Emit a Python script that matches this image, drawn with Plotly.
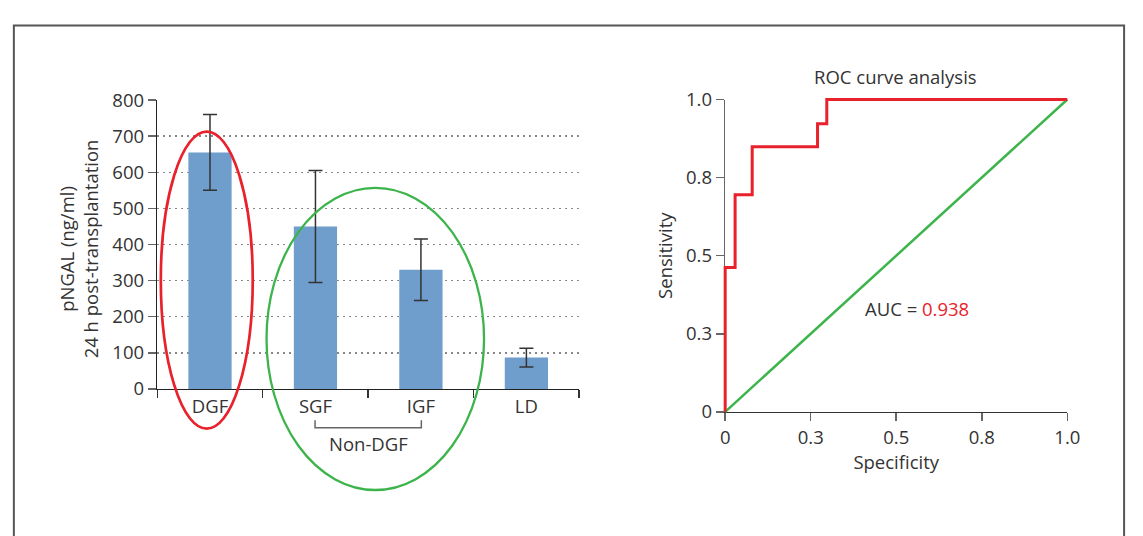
import plotly.graph_objects as go

W, H = 1143, 536

# ---- data: bar chart ----
groups = ["DGF", "SGF", "IGF", "LD"]
pngal_mean = [655, 450, 330, 87]
pngal_err = [105, 155, 85, 26]
bar_ticks = [0, 100, 200, 300, 400, 500, 600, 700, 800]

# ---- data: ROC curve ----
roc_spec = [0.0, 0.0, 0.029, 0.029, 0.079, 0.079, 0.270, 0.270, 0.297, 0.297, 1.0]
roc_sens = [0.0, 0.462, 0.462, 0.695, 0.695, 0.849, 0.849, 0.922, 0.922, 1.0, 1.0]
ref_x = [0.0, 1.0]
ref_y = [0.0, 1.0]
auc_value = 0.938
roc_tickvals = [0, 0.25, 0.5, 0.75, 1.0]
roc_ticktext = ["0", "0.3", "0.5", "0.8", "1.0"]

FONT = "Open Sans, Noto Sans, sans-serif"
FS = 18.5
TXT = "#333333"
BAR = "#6f9dcc"
RED = "#e8212b"
GREEN = "#3cb44b"


def px(x):
    return x / W


def py(y):
    return 1 - y / H


# ROC plot area in pixels
RX0, RX1, RY0, RY1 = 731.7, 1079.3, 417.3, 89.7
PAD = 4  # extra pixels so the thick lines at the edges are not clipped
padx = PAD / (RX1 - RX0)
pady = PAD / (RY0 - RY1)

fig = go.Figure()

fig.add_trace(go.Bar(
    x=groups, y=pngal_mean, marker=dict(color=BAR, line=dict(width=0)),
    width=0.41,
    error_y=dict(type="data", array=pngal_err, color="#333333", thickness=1.5, width=7),
    xaxis="x", yaxis="y", showlegend=False,
))

fig.add_trace(go.Scatter(
    x=ref_x, y=ref_y, mode="lines", line=dict(color=GREEN, width=2.5),
    xaxis="x3", yaxis="y3", showlegend=False,
))
fig.add_trace(go.Scatter(
    x=roc_spec, y=roc_sens, mode="lines", line=dict(color=RED, width=3),
    xaxis="x3", yaxis="y3", showlegend=False,
))

tickfont = dict(family=FONT, size=FS, color=TXT)

fig.update_layout(
    width=W, height=H,
    margin=dict(l=0, r=0, t=0, b=0),
    paper_bgcolor="white", plot_bgcolor="rgba(0,0,0,0)",
    font=dict(family=FONT, size=FS, color=TXT),
    hovermode=False,
    xaxis=dict(
        domain=[px(154.7), px(583.3)], anchor="y",
        type="category", range=[-0.5, 3.5], tickson="boundaries",
        ticks="outside", ticklen=8, tickwidth=1.5, tickcolor="#333333",
        showline=True, linecolor="#222222", linewidth=1.5,
        showgrid=False, zeroline=False, tickfont=tickfont,
    ),
    yaxis=dict(
        domain=[py(393.3), py(90.3)], anchor="x",
        range=[0, 800], tickvals=bar_ticks,
        ticks="outside", ticklen=8, tickwidth=1.5, tickcolor="#666666",
        showline=True, linecolor="#222222", linewidth=1.5,
        showgrid=True, gridcolor="#888888", gridwidth=1.5, griddash="2px,4px",
        zeroline=False, tickfont=tickfont,
    ),
    xaxis2=dict(
        domain=[px(RX0), px(RX1)], anchor="y2",
        range=[0, 1], tickvals=roc_tickvals, ticktext=roc_ticktext,
        ticks="outside", ticklen=8, tickwidth=1.5, tickcolor="#666666",
        showline=True, linecolor="#333333", linewidth=1.5,
        showgrid=False, zeroline=False, tickfont=tickfont,
        title=dict(text="Specificity", font=dict(family=FONT, size=FS, color=TXT), standoff=6),
    ),
    yaxis2=dict(
        domain=[py(RY0), py(RY1)], anchor="x2",
        range=[0, 1], tickvals=roc_tickvals, ticktext=roc_ticktext,
        ticks="outside", ticklen=8, tickwidth=1.5, tickcolor="#666666",
        showline=True, linecolor="#666666", linewidth=1.5,
        showgrid=False, zeroline=False, tickfont=tickfont,
        title=dict(text="Sensitivity", font=dict(family=FONT, size=FS, color=TXT), standoff=8),
    ),
    # invisible overlay with the same data mapping, slightly larger so edge lines are not clipped
    xaxis3=dict(
        domain=[px(RX0 - PAD), px(RX1 + PAD)], anchor="y3",
        range=[-padx, 1 + padx], visible=False, showgrid=False, zeroline=False,
    ),
    yaxis3=dict(
        domain=[py(RY0 + PAD), py(RY1 - PAD)], anchor="x3",
        range=[-pady, 1 + pady], visible=False, showgrid=False, zeroline=False,
    ),
)

annotations = [
    dict(text="pNGAL (ng/ml)<br>24 h post-transplantation", x=px(75), y=py(246),
         xref="paper", yref="paper", showarrow=False, textangle=-90,
         font=dict(family=FONT, size=FS, color=TXT), xanchor="center", yanchor="middle"),
    dict(text="Non-DGF", x=px(369), y=py(450), xref="paper", yref="paper", showarrow=False,
         font=dict(family=FONT, size=FS, color=TXT), xanchor="center", yanchor="middle"),
    dict(text="ROC curve analysis", x=px(905), y=py(66), xref="paper", yref="paper",
         showarrow=False, font=dict(family=FONT, size=FS, color=TXT),
         xanchor="center", yanchor="middle"),
    dict(text=f"AUC = <span style='color:{RED}'>{auc_value:.3f}</span>", x=0.562, y=0.33,
         xref="x2", yref="y2", showarrow=False, font=dict(family=FONT, size=FS, color=TXT),
         xanchor="center", yanchor="middle"),
]
fig.update_layout(annotations=annotations)

shapes = [
    # frame
    dict(type="path", path=f"M {px(9)} -0.1 L {px(9)} {py(12)} L {px(1137)} {py(12)} L {px(1137)} -0.1",
         xref="paper", yref="paper", line=dict(color="#555555", width=2)),
    # ellipses
    dict(type="circle", xref="paper", yref="paper", x0=px(158.3), x1=px(251.7), y0=py(435), y1=py(123.3),
         line=dict(color=RED, width=2.7)),
    dict(type="circle", xref="paper", yref="paper", x0=px(265.7), x1=px(486.7), y0=py(499.3), y1=py(182.3),
         line=dict(color=GREEN, width=2.3)),
    # Non-DGF bracket
    dict(type="path", path=f"M {px(315)} {py(426)} L {px(315)} {py(434)} L {px(423)} {py(434)} L {px(423)} {py(426)}",
         xref="paper", yref="paper", line=dict(color="#666666", width=1.5)),
]
fig.update_layout(shapes=shapes)

fig.write_html("out.html", config={"displayModeBar": False, "staticPlot": True},
               post_script="document.body.style.margin='0';")
